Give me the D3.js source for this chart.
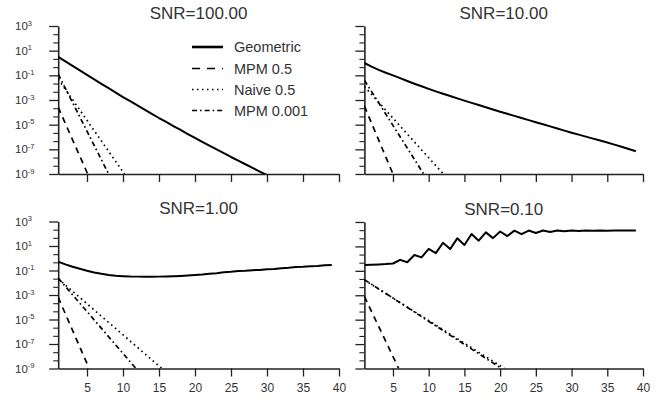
<!DOCTYPE html>
<html><head><meta charset="utf-8">
<script src="https://cdn.jsdelivr.net/npm/d3@7"></script>
<style>
body{margin:0;background:#fff}
svg{display:block}
text{font-family:"Liberation Sans",Arial,Helvetica,sans-serif;fill:#333}
</style>
</head><body>
<svg id="c" width="670" height="404"></svg>
<script>
// ---- data (y values given as base-10 exponents) ----
const panelTitles = ["SNR=100.00", "SNR=10.00", "SNR=1.00", "SNR=0.10"];
const seriesNames = ["Geometric", "MPM 0.5", "Naive 0.5", "MPM 0.001"];
const xTickValues = [5, 10, 15, 20, 25, 30, 35, 40];
const yMajorExponents = [3, 1, -1, -3, -5, -7, -9];

const geoX100 = [1,2,3,4,5,6,7,8,9,10,11,12,13,14,15,16,17,18,19,20,21,22,23,24,25,26,27,28,29,30];
const geoX = [1,2,3,4,5,6,7,8,9,10,11,12,13,14,15,16,17,18,19,20,21,22,23,24,25,26,27,28,29,30,31,32,33,34,35,36,37,38,39];

const geo100 = [0.49,0.125,-0.24,-0.605,-0.97,-1.33,-1.69,-2.04,-2.40,-2.76,-3.10,-3.44,-3.78,-4.12,-4.46,-4.78,-5.11,-5.43,-5.76,-6.08,-6.39,-6.70,-7.00,-7.31,-7.62,-7.91,-8.21,-8.50,-8.80,-9.09];
const geo10 = [0.0,-0.30,-0.56,-0.79,-1.0,-1.23,-1.46,-1.68,-1.89,-2.1,-2.30,-2.49,-2.68,-2.87,-3.05,-3.23,-3.41,-3.59,-3.77,-3.95,-4.12,-4.29,-4.46,-4.63,-4.80,-4.97,-5.14,-5.31,-5.48,-5.65,-5.81,-5.97,-6.13,-6.29,-6.45,-6.62,-6.79,-6.97,-7.15];
const geo1 = [-0.28,-0.50,-0.69,-0.86,-1.02,-1.16,-1.27,-1.36,-1.42,-1.46,-1.49,-1.50,-1.51,-1.51,-1.50,-1.49,-1.47,-1.44,-1.41,-1.37,-1.33,-1.26,-1.22,-1.15,-1.11,-1.05,-1.03,-0.97,-0.95,-0.89,-0.87,-0.81,-0.78,-0.72,-0.70,-0.65,-0.63,-0.57,-0.55];
const geo01 = [-0.52,-0.50,-0.48,-0.45,-0.40,-0.10,-0.30,0.30,0.10,0.80,0.45,1.30,0.78,1.66,1.12,2.02,1.47,2.15,1.68,2.22,1.85,2.29,2.0,2.30,2.10,2.30,2.18,2.31,2.24,2.31,2.27,2.31,2.28,2.31,2.29,2.30,2.30,2.30,2.30];

// straight (on log scale) series: [x, exponent] at start and where they reach 1e-9
const mpm05_100 = [[1,-3.6],[5.1,-9]];
const naive_100 = [[1,-1.3],[10.2,-9]];
const mpm001_100 = [[1,-0.9],[8.0,-9]];
const mpm05_10 = [[1,-3.5],[5.0,-9]];
const naive_10 = [[1,-1.9],[12.05,-9]];
const mpm001_10 = [[1,-1.4],[9.3,-9]];
const mpm05_1 = [[1,-3.2],[5.3,-9]];
const naive_1 = [[1,-1.68],[15.4,-9]];
const mpm001_1 = [[1,-1.62],[11.8,-9]];
const mpm05_01 = [[1,-3.1],[5.8,-9]];
const naive_01 = [[1,-1.75],[20.6,-9]];
const mpm001_01 = [[1,-1.72],[20.2,-9]];

// ---- layout / styles ----
const layout = [
  {x0:58.2, x1:339, y0:26, y1:174, yLab:true, xLab:false},
  {x0:364.4, x1:643, y0:26, y1:174, yLab:false, xLab:false},
  {x0:58.2, x1:339, y0:221.5, y1:368.5, yLab:true, xLab:true},
  {x0:364.4, x1:643, y0:222, y1:368.5, yLab:false, xLab:true}
];
const geoSets = [[geoX100, geo100],[geoX, geo10],[geoX, geo1],[geoX, geo01]];
const mpm05Sets = [mpm05_100, mpm05_10, mpm05_1, mpm05_01];
const naiveSets = [naive_100, naive_10, naive_1, naive_01];
const mpm001Sets = [mpm001_100, mpm001_10, mpm001_1, mpm001_01];

const dashes = [null, "6,5", "1.6,3.4", "5,3,1.6,3"];
const widths = [2, 1.7, 1.7, 1.7];

const svg = d3.select("#c");
const defs = svg.append("defs");

// minor tick exponents (between majors)
const yMinor = [];
for (let k = 0; k < yMajorExponents.length - 1; k++) {
  const e = yMajorExponents[k];
  yMinor.push(e - 2/3, e - 4/3);
}

layout.forEach((p, i) => {
  const x = d3.scaleLinear().domain([1, 40]).range([p.x0, p.x1]);
  const y = d3.scaleLog().domain([1e-9, 1e3]).range([p.y1, p.y0]);
  const g = svg.append("g");

  defs.append("clipPath").attr("id", "cl" + i).append("rect")
    .attr("x", p.x0).attr("y", p.y0 - 10)
    .attr("width", p.x1 - p.x0 + 10).attr("height", p.y1 - p.y0 + 10);

  // title
  g.append("text").attr("x", (p.x0 + p.x1) / 2).attr("y", p.y0 - 7.5)
    .attr("text-anchor", "middle").style("font-size", "17px").text(panelTitles[i]);

  // x axis
  const xa = g.append("g").attr("transform", `translate(0,${p.y1})`)
    .call(d3.axisBottom(x).tickValues(xTickValues).tickSize(8).tickSizeOuter(0)
      .tickFormat(p.xLab ? d3.format("d") : () => ""));
  xa.select(".domain").attr("stroke", "#222").attr("stroke-width", 1.6);
  xa.selectAll(".tick line").attr("stroke", "#222").attr("stroke-width", 1.3);
  xa.selectAll(".tick text").attr("dy", 0).attr("y", 23)
    .style("font-size", "12px").style("font-family", "Liberation Sans, Arial, sans-serif").attr("fill", "#333");

  // y axis major
  const ya = g.append("g").attr("transform", `translate(${p.x0},0)`)
    .call(d3.axisLeft(y).tickValues(yMajorExponents.map(e => Math.pow(10, e))).tickSize(9).tickSizeOuter(0).tickFormat(() => ""));
  ya.select(".domain").attr("stroke", "#222").attr("stroke-width", 1.6);
  ya.selectAll(".tick line").attr("stroke", "#222").attr("stroke-width", 1.3);
  // y axis minor
  const ym = g.append("g").attr("transform", `translate(${p.x0},0)`)
    .call(d3.axisLeft(y).tickValues(yMinor.map(e => Math.pow(10, e))).tickSize(5).tickFormat(() => ""));
  ym.select(".domain").remove();
  ym.selectAll(".tick line").attr("stroke", "#222").attr("stroke-width", 1.1);

  if (p.yLab) {
    yMajorExponents.forEach(e => {
      const t = g.append("text").attr("x", 15).attr("y", y(Math.pow(10, e)) + 4)
        .style("font-size", "11.5px");
      t.append("tspan").text("10");
      t.append("tspan").attr("dy", -4.5).style("font-size", "7.5px").text(String(e));
    });
  }

  const lineGen = d3.line().x(d => x(d[0])).y(d => y(Math.pow(10, d[1])));
  const plot = g.append("g").attr("clip-path", `url(#cl${i})`);

  const [gx, gv] = geoSets[i];
  const geoPts = gx.map((xx, j) => [xx, gv[j]]);
  const all = [geoPts, mpm05Sets[i], naiveSets[i], mpm001Sets[i]];
  all.forEach((pts, s) => {
    plot.append("path").attr("d", lineGen(pts)).attr("fill", "none")
      .attr("stroke", "#000").attr("stroke-width", widths[s])
      .attr("stroke-linejoin", "round")
      .attr("stroke-dasharray", dashes[s]);
  });

  if (i === 0) {
    const leg = g.append("g");
    const rows = [47, 68.5, 89.5, 110.5];
    seriesNames.forEach((name, s) => {
      leg.append("line").attr("x1", 192).attr("x2", 223).attr("y1", rows[s]).attr("y2", rows[s])
        .attr("stroke", "#000").attr("stroke-width", s === 0 ? 2.6 : 1.6)
        .attr("stroke-dasharray", s === 1 ? "8,7" : (s === 2 ? "1.5,3.5" : dashes[s]));
      leg.append("text").attr("x", 234).attr("y", rows[s]).attr("dy", "0.36em")
        .style("font-size", "14.5px").text(name);
    });
  }
});
</script>
</body></html>
